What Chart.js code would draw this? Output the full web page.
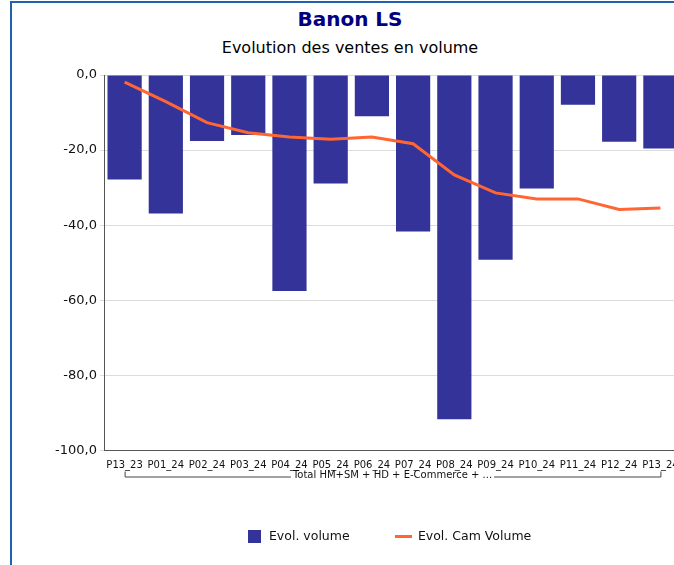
<!DOCTYPE html>
<html lang="fr">
<head>
  <meta charset="UTF-8" />
  <title>Banon LS</title>
  <script src="https://cdn.jsdelivr.net/npm/chart.js"></script>
  <style>
    body { margin: 0; overflow: hidden; background: #fff; font-family: 'DejaVu Sans', sans-serif; }
    .cadre {
      position: absolute; left: 10px; top: 1px; width: 676px; height: 620px;
      border-left: 2px solid #1f62b0; border-top: 2px solid #1f62b0;
    }
    .titre { position: absolute; left: 11px; width: 678px; text-align: center; }
    #t1 { top: 7px; font-size: 20px; font-weight: bold; color: #000080; }
    #t2 { top: 38px; font-size: 16px; color: #000; }
    #chart { position: absolute; left: 13px; top: 60px; }
  </style>
</head>
<body>
  <div class="cadre"></div>
  <div class="titre" id="t1">Banon LS</div>
  <div class="titre" id="t2">Evolution des ventes en volume</div>
  <canvas id="chart" width="751" height="493"></canvas>

  <script>
    const categories = ['P13_23', 'P01_24', 'P02_24', 'P03_24', 'P04_24', 'P05_24', 'P06_24',
                        'P07_24', 'P08_24', 'P09_24', 'P10_24', 'P11_24', 'P12_24', 'P13_24'];
    const evolVolume = [-27.8, -36.9, -17.6, -16.0, -57.5, -28.9, -11.0,
                        -41.7, -91.7, -49.2, -30.2, -7.9, -17.8, -19.6];
    const evolCamVolume = [-1.9, -7.1, -12.7, -15.4, -16.5, -17.1, -16.5,
                           -18.3, -26.6, -31.4, -33.0, -33.0, -35.8, -35.4];
    const groupLabel = 'Total HM+SM + HD + E-Commerce + ...';

    const police = "'DejaVu Sans', sans-serif";

    // petites icônes de légende
    function icone(w, h, color) {
      const c = document.createElement('canvas');
      c.width = w; c.height = h;
      const g = c.getContext('2d');
      g.fillStyle = color;
      g.fillRect(0, 0, w, h);
      return c;
    }

    // accolade sous les libellés de l'axe X
    const groupe = {
      id: 'groupe',
      afterDraw(chart) {
        const ctx = chart.ctx;
        const x = chart.scales.x;
        const x0 = x.getPixelForValue(0);
        const x1 = x.getPixelForValue(categories.length - 1);
        const y = chart.chartArea.bottom + 26;
        ctx.save();
        ctx.font = '10px ' + police;
        const tw = ctx.measureText(groupLabel).width;
        const mid = (x0 + x1) / 2;
        ctx.strokeStyle = '#444';
        ctx.lineWidth = 1;
        ctx.beginPath();
        ctx.moveTo(x0 + 0.5, y - 5);
        ctx.lineTo(x0 + 0.5, y + 0.5);
        ctx.lineTo(mid - tw / 2 - 2, y + 0.5);
        ctx.moveTo(mid + tw / 2 + 2, y + 0.5);
        ctx.lineTo(x1 + 0.5, y + 0.5);
        ctx.lineTo(x1 + 0.5, y - 5);
        ctx.stroke();
        ctx.fillStyle = '#111';
        ctx.textAlign = 'center';
        ctx.textBaseline = 'middle';
        ctx.fillText(groupLabel, mid, y - 1);
        ctx.restore();
      }
    };

    new Chart(document.getElementById('chart'), {
      type: 'bar',
      data: {
        labels: categories,
        datasets: [
          {
            type: 'bar',
            label: 'Evol. volume',
            data: evolVolume,
            backgroundColor: '#333399',
            barPercentage: 0.83,
            categoryPercentage: 1,
            pointStyle: icone(13, 13, '#333399'),
            order: 2
          },
          {
            type: 'line',
            label: 'Evol. Cam Volume',
            data: evolCamVolume,
            borderColor: '#ff6633',
            backgroundColor: '#ff6633',
            borderWidth: 3,
            pointRadius: 0,
            tension: 0,
            pointStyle: icone(17, 3, '#ff6633'),
            order: 1
          }
        ]
      },
      options: {
        responsive: false,
        animation: false,
        layout: { padding: { top: 15, right: 0, bottom: 0, left: 0 } },
        scales: {
          x: {
            grid: { display: false, drawTicks: false },
            border: { color: '#555' },
            ticks: {
              autoSkip: false, maxRotation: 0, minRotation: 0, padding: 9,
              color: '#111', font: { family: police, size: 10 }
            },
            afterFit: s => { s.height = 35; }
          },
          y: {
            min: -100, max: 0,
            grid: { color: '#dcdcdc', tickLength: 4 },
            border: { color: '#555' },
            ticks: {
              stepSize: 20, padding: 3, color: '#111',
              font: { family: police, size: 13 },
              callback: v => v.toFixed(1).replace('.', ',')
            },
            afterFit: s => { s.width = 91; }
          },
          // marge droite (zone hors cadre), sans rien dessiner
          marge: {
            position: 'right',
            grid: { display: false, drawTicks: false },
            border: { display: false },
            ticks: { display: false },
            afterFit: s => { s.width = 83; }
          }
        },
        plugins: {
          legend: {
            position: 'bottom',
            labels: {
              usePointStyle: true,
              pointStyleWidth: 17,
              boxHeight: 13,
              padding: 45,
              color: '#111',
              font: { family: police, size: 12.5 },
              sort: (a, b) => a.datasetIndex - b.datasetIndex
            }
          },
          tooltip: { enabled: false }
        }
      },
      plugins: [groupe]
    });
  </script>
</body>
</html>
